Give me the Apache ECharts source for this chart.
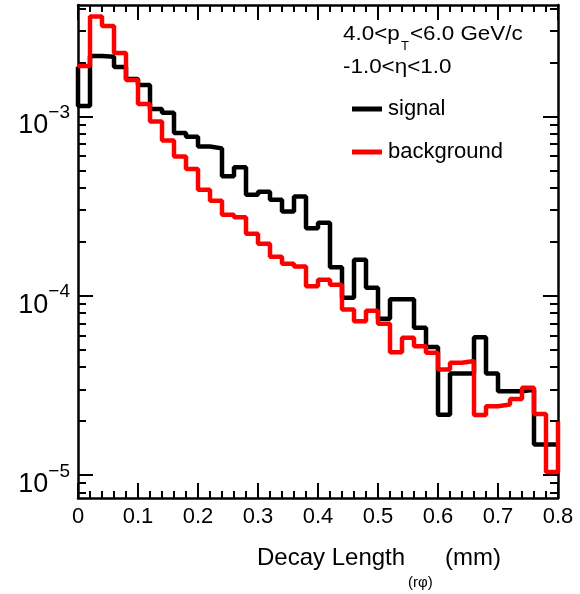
<!DOCTYPE html>
<html><head><meta charset="utf-8">
<script src="https://cdn.jsdelivr.net/npm/echarts@6/dist/echarts.min.js"></script>
<style>html,body{margin:0;padding:0;background:#fff}#c{width:580px;height:594px}</style>
</head><body><div id="c"></div>
<script>
// ---- data ----
const binEdges = [0,0.02,0.04,0.06,0.08,0.10,0.12,0.14,0.16,0.18,0.20,0.22,0.24,0.26,0.28,0.30,0.32,0.34,0.36,0.38,
  0.40,0.42,0.44,0.46,0.48,0.50,0.52,0.54,0.56,0.58,0.60,0.62,0.64,0.66,0.68,0.70,0.72,0.74,0.76,0.78,0.80];
const signal = [1.144e-3,2.17e-3,2.15e-3,1.888e-3,1.618e-3,1.497e-3,1.101e-3,1.046e-3,8.09e-4,7.69e-4,
  6.79e-4,6.63e-4,4.63e-4,5.20e-4,3.65e-4,3.80e-4,3.43e-4,2.95e-4,3.57e-4,2.38e-4,
  2.55e-4,1.441e-4,9.75e-5,1.587e-4,1.108e-4,7.44e-5,9.56e-5,9.56e-5,6.63e-5,5.17e-5,
  2.17e-5,3.68e-5,3.68e-5,5.87e-5,3.68e-5,2.93e-5,2.93e-5,2.99e-5,1.479e-5,1.479e-5];
const signalUnderflow = 1.89e-3;
const background = [1.912e-3,3.607e-3,3.193e-3,2.259e-3,1.597e-3,1.174e-3,9.35e-4,7.33e-4,5.97e-4,5.08e-4,
  3.896e-4,3.383e-4,2.827e-4,2.737e-4,2.214e-4,1.949e-4,1.649e-4,1.508e-4,1.456e-4,1.129e-4,
  1.228e-4,1.151e-4,8.36e-5,7.19e-5,8.25e-5,6.98e-5,4.84e-5,5.83e-5,5.22e-5,4.81e-5,
  3.87e-5,4.23e-5,4.32e-5,2.16e-5,2.42e-5,2.47e-5,2.65e-5,3.07e-5,2.19e-5,1.039e-5];
const backgroundOverflow = 1.99e-5;
const xRange = [0, 0.8];
const xTickStep = 0.1;
const yRange = [7.44e-6, 4.18e-3];
const yMajorTicks = [1e-5, 1e-4, 1e-3];
const yMinorTicks = [8e-6,9e-6,2e-5,3e-5,4e-5,5e-5,6e-5,7e-5,8e-5,9e-5,
  2e-4,3e-4,4e-4,5e-4,6e-4,7e-4,8e-4,9e-4,2e-3,3e-3,4e-3];
const seriesNames = ['signal', 'background'];

// ---- build step data ----
function stepData(vals, before, after) {
  const d = [];
  if (before != null) d.push([binEdges[0], before]);
  for (let i = 0; i < vals.length; i++) d.push([binEdges[i], vals[i]]);
  d.push([binEdges[vals.length], after != null ? after : vals[vals.length - 1]]);
  return d;
}

const FONT = 'Liberation Sans, Arial, Helvetica, sans-serif';
const frame = { show: true, lineStyle: { color: '#000', width: 2.5 } };

function xAx(pos, labels) {
  return {
    type: 'value', position: pos, min: xRange[0], max: xRange[1], interval: xTickStep,
    axisLine: frame, splitLine: { show: false },
    axisTick: { show: true, inside: true, length: 15, lineStyle: { color: '#000', width: 2 } },
    minorTick: { show: true, splitNumber: 5, length: 7, lineStyle: { color: '#000', width: 2 } },
    axisLabel: { show: labels, margin: 8, fontSize: 22, color: '#000', fontFamily: FONT,
      formatter: v => (Math.round(v * 10) / 10).toString() }
  };
}
function yAx(pos, ticks, len, line, labels) {
  return {
    type: 'log', logBase: 10, position: pos, min: yRange[0], max: yRange[1],
    axisLine: line ? frame : { show: false }, splitLine: { show: false }, minorTick: { show: false },
    axisTick: { show: true, inside: true, length: len, customValues: ticks, lineStyle: { color: '#000', width: 2 } },
    axisLabel: labels ? {
      show: true, margin: 8, customValues: ticks, color: '#000', fontFamily: FONT,
      formatter: v => '{a|10}{b|\u2212' + Math.round(-Math.log10(v)) + '}',
      rich: {
        a: { fontSize: 27, fontFamily: FONT, color: '#000', lineHeight: 30, verticalAlign: 'top', padding: [11, 0, 0, 0] },
        b: { fontSize: 19, fontFamily: FONT, color: '#000', lineHeight: 20, verticalAlign: 'top', padding: [2, 0, 0, 0] }
      }
    } : { show: false }
  };
}

const chart = echarts.init(document.getElementById('c'), null, { renderer: 'canvas' });
chart.setOption({
  animation: false,
  backgroundColor: '#fff',
  grid: { left: 78, right: 22, top: 5, bottom: 96, containLabel: false },
  xAxis: [xAx('bottom', true), xAx('top', false)],
  yAxis: [
    yAx('left', yMajorTicks, 15, true, true),
    yAx('left', yMinorTicks, 8, false, false),
    yAx('right', yMajorTicks, 15, true, false),
    yAx('right', yMinorTicks, 8, false, false)
  ],
  legend: {
    orient: 'vertical', left: 352, top: 98, padding: 0, itemGap: 21, itemWidth: 30, itemHeight: 5, icon: 'rect',
    textStyle: { fontSize: 22, fontFamily: FONT, color: '#000', padding: [0, 0, 0, 1] },
    data: seriesNames
  },
  series: [
    { name: seriesNames[0], type: 'line', step: 'end', xAxisIndex: 0, yAxisIndex: 0,
      data: stepData(signal, signalUnderflow, null), showSymbol: false, symbol: 'none',
      lineStyle: { color: '#000', width: 4.5 }, itemStyle: { color: '#000' }, z: 2 },
    { name: seriesNames[1], type: 'line', step: 'end', xAxisIndex: 0, yAxisIndex: 0,
      data: stepData(background, null, backgroundOverflow), showSymbol: false, symbol: 'none',
      lineStyle: { color: '#ff0000', width: 4.5 }, itemStyle: { color: '#ff0000' }, z: 3 }
  ],
  graphic: [
    { type: 'text', x: 343, y: 24, scaleX: 1.12, style: { text: '4.0<p', fontSize: 20, fontFamily: FONT, fill: '#000' } },
    { type: 'text', x: 401, y: 40, style: { text: 'T', fontSize: 13, fontFamily: FONT, fill: '#000' } },
    { type: 'text', x: 410, y: 24, scaleX: 1.12, style: { text: '<6.0 GeV/c', fontSize: 20, fontFamily: FONT, fill: '#000' } },
    { type: 'text', x: 343, y: 57, scaleX: 1.12, style: { text: '-1.0<\u03b7<1.0', fontSize: 20, fontFamily: FONT, fill: '#000' } },
    { type: 'text', left: 257, top: 546, style: { text: 'Decay Length', fontSize: 24, fontFamily: FONT, fill: '#000' } },
    { type: 'text', left: 408, top: 575, style: { text: '(r\u03c6)', fontSize: 15, fontFamily: FONT, fill: '#000' } },
    { type: 'text', left: 445, top: 546, style: { text: '(mm)', fontSize: 24, fontFamily: FONT, fill: '#000' } }
  ]
});
</script></body></html>
